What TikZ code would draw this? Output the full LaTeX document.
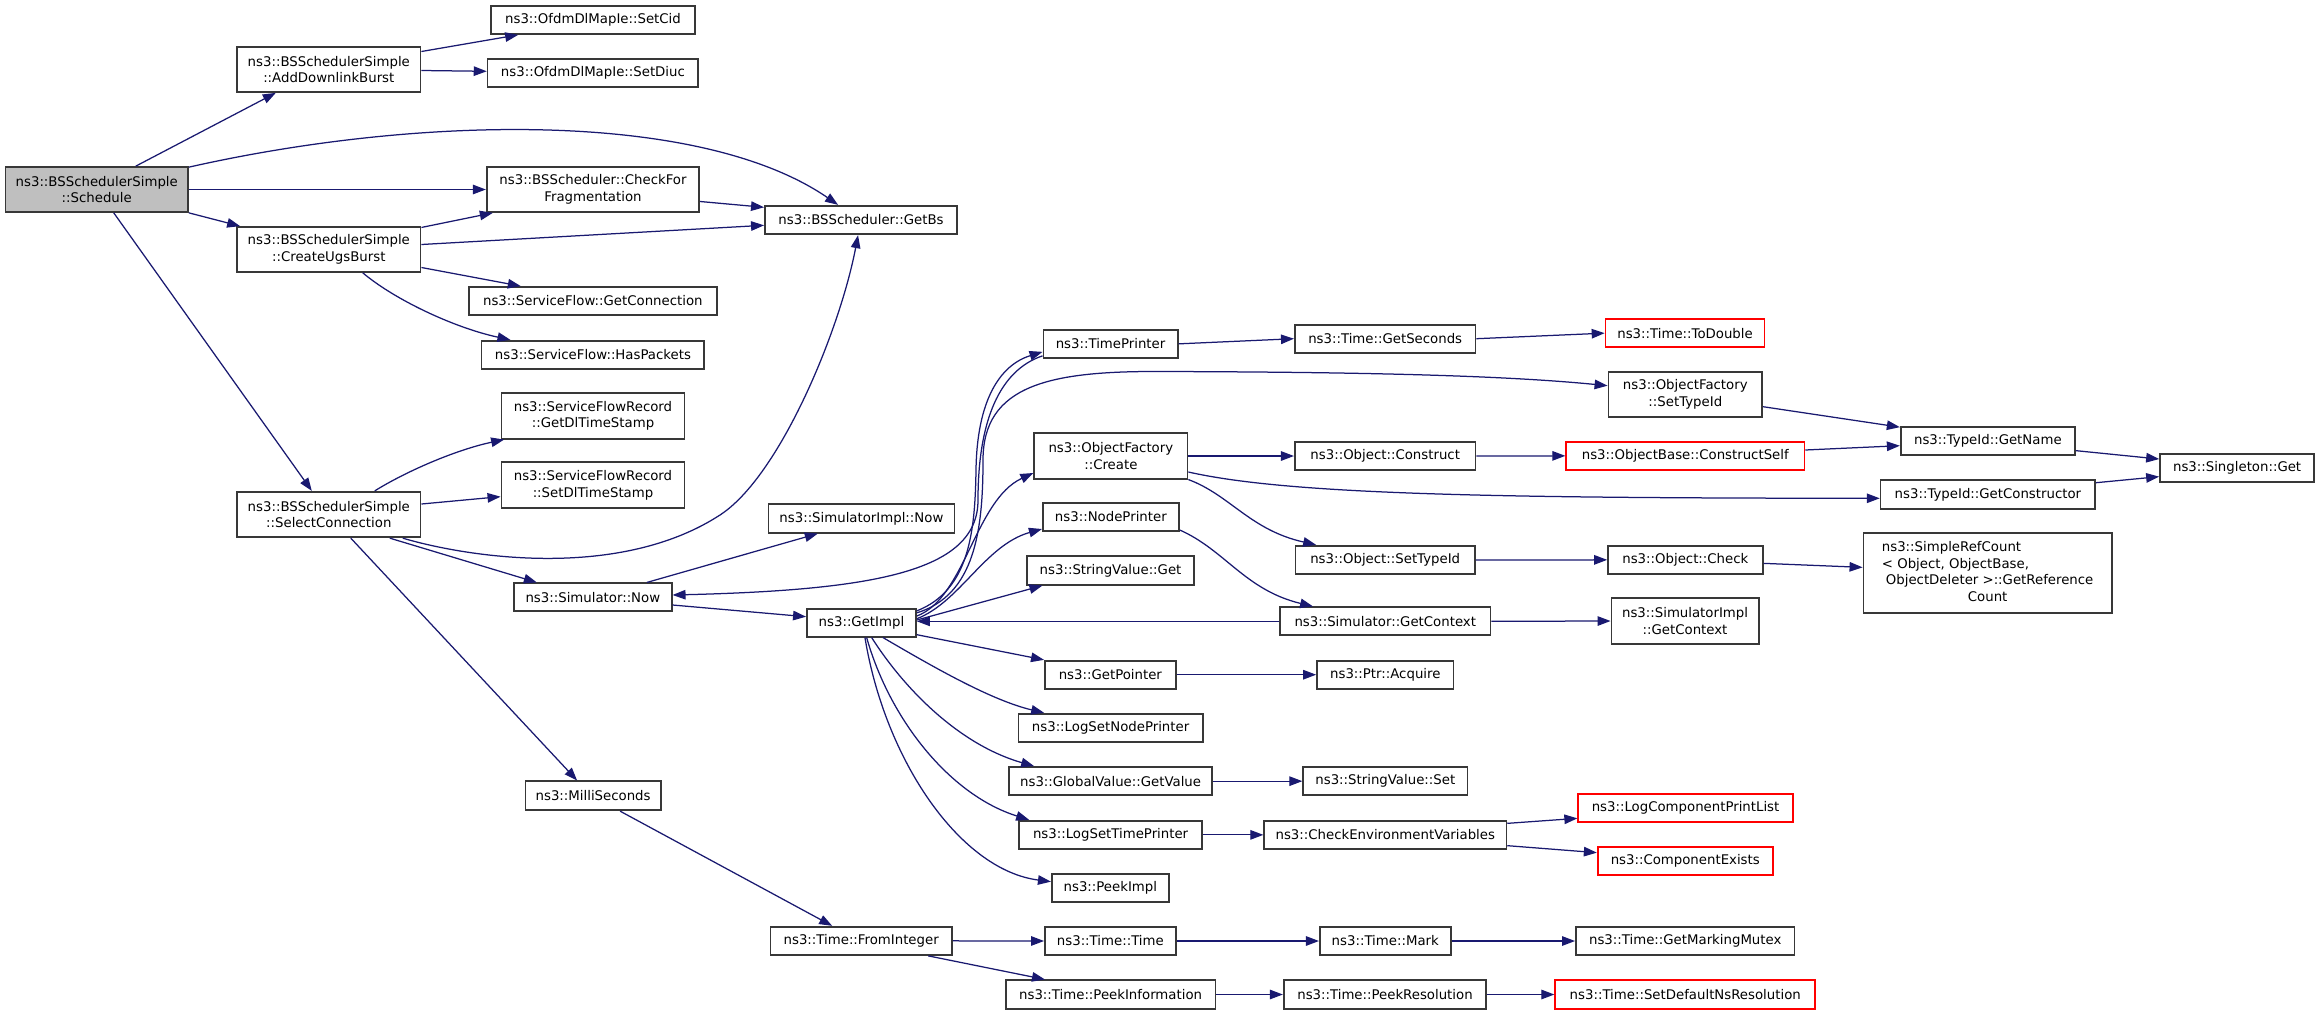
\documentclass[tikz,border=0pt]{standalone}
\usepackage{fontspec}
\setmainfont{DejaVu Sans}
\usetikzlibrary{arrows.meta}
\definecolor{edgec}{HTML}{191970}
\definecolor{bordc}{HTML}{383838}
\definecolor{rootfill}{HTML}{BFBFBF}
\definecolor{redc}{HTML}{FF0000}
\newcommand{\bnode}[7][]{\node[box,#1,minimum width={#5-#3},minimum height={#6-#4}] (#2) at ({(#3+#5)/2},{(#4+#6)/2}) {#7};}
\begin{document}
\begin{tikzpicture}[x=1pt,y=-1pt,
  box/.style={draw=bordc, line width=1.7pt, fill=white, inner sep=0pt, align=center, font={\fontsize{13.3}{16.7}\selectfont}},
  redbox/.style={draw=redc},
  rootbox/.style={fill=rootfill},
  edge/.style={draw=edgec, line width=1.25pt, -{Triangle[length=13pt,width=9.5pt]}}]
\fill[white] (0,0) rectangle (2320,1015);
\useasboundingbox (0,0) rectangle (2320,1015);
% nodes
\bnode[rootbox]{sched}{5.5}{167}{188}{212}{ns3::BSSchedulerSimple\\::Schedule}
\bnode{add}{237}{47}{420.6}{92}{ns3::BSSchedulerSimple\\::AddDownlinkBurst}
\bnode{setcid}{491}{5.7}{695}{34}{ns3::OfdmDlMapIe::SetCid}
\bnode{setdiuc}{487.6}{59.3}{698.3}{87.3}{ns3::OfdmDlMapIe::SetDiuc}
\bnode{check}{486.7}{167}{699.3}{212}{ns3::BSScheduler::CheckFor\\Fragmentation}
\bnode{ugs}{237}{227}{420.6}{272}{ns3::BSSchedulerSimple\\::CreateUgsBurst}
\bnode{getconn}{469}{287}{716.7}{315}{ns3::ServiceFlow::GetConnection}
\bnode{haspk}{481.6}{340.7}{704.3}{368.7}{ns3::ServiceFlow::HasPackets}
\bnode{getdl}{501.4}{393}{684.6}{438.7}{ns3::ServiceFlowRecord\\::GetDlTimeStamp}
\bnode{setdl}{501.4}{462.3}{684.6}{508}{ns3::ServiceFlowRecord\\::SetDlTimeStamp}
\bnode{select}{237}{491.7}{420.6}{537.3}{ns3::BSSchedulerSimple\\::SelectConnection}
\bnode{simnow}{514}{583.3}{671.7}{611.3}{ns3::Simulator::Now}
\bnode{milli}{525.5}{781.3}{660.7}{810.3}{ns3::MilliSeconds}
\bnode{fromint}{770.4}{926.7}{952}{955}{ns3::Time::FromInteger}
\bnode{getbs}{764.9}{205.7}{957.2}{234.3}{ns3::BSScheduler::GetBs}
\bnode{timepr}{1043.4}{329.7}{1177.7}{358}{ns3::TimePrinter}
\bnode{getsec}{1294.8}{324.7}{1475.6}{352.7}{ns3::Time::GetSeconds}
\bnode{create}{1034.2}{433.3}{1187.5}{478.7}{ns3::ObjectFactory\\::Create}
\bnode{construct}{1294.8}{441.7}{1475.6}{470.3}{ns3::Object::Construct}
\bnode{implnow}{768.4}{504.3}{954.4}{532.7}{ns3::SimulatorImpl::Now}
\bnode{nodepr}{1042.8}{503}{1178.9}{531}{ns3::NodePrinter}
\bnode{strget}{1027.3}{556.3}{1193.8}{584.7}{ns3::StringValue::Get}
\bnode{objsettid}{1295.4}{545.7}{1475}{574.3}{ns3::Object::SetTypeId}
\bnode{getimpl}{806.9}{608.7}{916}{636.7}{ns3::GetImpl}
\bnode{getctx}{1279.9}{607.3}{1490.6}{635.3}{ns3::Simulator::GetContext}
\bnode[redbox]{todouble}{1605.5}{319}{1764.6}{347.3}{ns3::Time::ToDouble}
\bnode{ofsettid}{1608.4}{371.7}{1762.2}{417.3}{ns3::ObjectFactory\\::SetTypeId}
\bnode[redbox]{cself}{1566.2}{441.7}{1804.4}{470}{ns3::ObjectBase::ConstructSelf}
\bnode{getname}{1900.7}{427}{2075}{455.3}{ns3::TypeId::GetName}
\bnode{singleton}{2160}{453.7}{2314.2}{482}{ns3::Singleton::Get}
\bnode{getctor}{1880.6}{480.3}{2095.2}{508.7}{ns3::TypeId::GetConstructor}
\bnode{check2}{1608}{545.7}{1762.7}{574}{ns3::Object::Check}
\bnode{refcount}{1863.4}{533}{2111.9}{613.3}{\begin{tabular}{@{}l@{}}ns3::SimpleRefCount\\< Object, ObjectBase,\\\hspace*{4pt}ObjectDeleter >::GetReference\\\multicolumn{1}{@{}c@{}}{Count}\end{tabular}}
\bnode{implctx}{1611.4}{598.3}{1758.7}{643.7}{ns3::SimulatorImpl\\::GetContext}
\bnode{getptr}{1044.9}{660.7}{1175.8}{688.7}{ns3::GetPointer}
\bnode{acquire}{1317}{660.7}{1453.6}{688.7}{ns3::Ptr::Acquire}
\bnode{lognode}{1018.5}{713.7}{1202.7}{742}{ns3::LogSetNodePrinter}
\bnode{globget}{1009.3}{767}{1211.9}{795.3}{ns3::GlobalValue::GetValue}
\bnode{strset}{1303.2}{767}{1467.4}{795.3}{ns3::StringValue::Set}
\bnode[redbox]{lcpl}{1578.2}{793.7}{1792.9}{822}{ns3::LogComponentPrintList}
\bnode{logtime}{1019}{820.7}{1202.2}{849}{ns3::LogSetTimePrinter}
\bnode{checkenv}{1264.2}{820.7}{1506.4}{849}{ns3::CheckEnvironmentVariables}
\bnode[redbox]{compex}{1597.7}{847}{1772.8}{875.3}{ns3::ComponentExists}
\bnode{peekimpl}{1051.8}{874}{1168.9}{902.3}{ns3::PeekImpl}
\bnode{ttime}{1044.9}{927}{1175.8}{955}{ns3::Time::Time}
\bnode{mark}{1319.8}{927}{1450.7}{955}{ns3::Time::Mark}
\bnode{mutex}{1575.9}{927}{1794.6}{955}{ns3::Time::GetMarkingMutex}
\bnode{peekinfo}{1005.8}{980.3}{1215.4}{1008.7}{ns3::Time::PeekInformation}
\bnode{peekres}{1283.7}{980.3}{1486.3}{1008.7}{ns3::Time::PeekResolution}
\bnode[redbox]{setdef}{1555.2}{980.3}{1815.3}{1008.7}{ns3::Time::SetDefaultNsResolution}
% edges
\draw[edge] ([xshift=39pt]sched.north) -- ([xshift=-53pt]add.south);
\draw[edge] ([shift={(0,1)}]sched.north east) .. controls (420,115) and (700,110) .. ([xshift=-23pt]getbs.north);
\draw[edge] (sched.east) -- (check.west);
\draw[edge] (sched.south east) -- ([xshift=4pt]ugs.north west);
\draw[edge] ([xshift=17pt]sched.south) -- ([xshift=-17pt]select.north);
\draw[edge] ([shift={(0,-18)}]add.east) -- ([xshift=28pt]setcid.south west);
\draw[edge] ([shift={(0,1)}]add.east) -- ([shift={(0,-2)}]setdiuc.west);
\draw[edge] ([shift={(0,1.3)}]ugs.north east) -- ([xshift=7pt]check.south west);
\draw[edge] ([shift={(0,-5)}]ugs.east) -- ([shift={(0,5.3)}]getbs.west);
\draw[edge] ([shift={(0,12)}]check.east) -- ([shift={(0,-12.7)}]getbs.west);
\draw[edge] ([shift={(0,18)}]ugs.east) -- ([xshift=-72pt]getconn.north);
\draw[edge] ([xshift=34pt]ugs.south) .. controls (395,300) and (455,328) .. ([xshift=-82.5pt]haspk.north);
\draw[edge] ([xshift=46pt]select.north) .. controls (405,472) and (455,450) .. ([xshift=3.6pt]getdl.south west);
\draw[edge] ([shift={(0,-10.5)}]select.east) -- ([shift={(0,11.5)}]setdl.west);
\draw[edge] ([xshift=74pt]select.south) .. controls (470,558) and (620,580) .. (720,515) .. controls (780,476) and (840,330) .. ([xshift=-3pt]getbs.south);
\draw[edge] ([xshift=61pt]select.south) -- ([xshift=-56pt]simnow.north);
\draw[edge] ([xshift=22pt]select.south) -- ([xshift=-16pt]milli.north);
\draw[edge] ([xshift=54pt]simnow.north) -- ([xshift=-43.6pt]implnow.south);
\draw[edge] ([shift={(0,7.7)}]simnow.east) -- ([shift={(0,-6)}]getimpl.west);
\draw[edge] ([shift={(0,-3)}]timepr.south west) .. controls (1000,370) and (978,420) .. (978,500) .. controls (978,570) and (880,590) .. ([shift={(0,-2.3)}]simnow.east);
\draw[edge] ([shift={(0,3)}]getimpl.north east) .. controls (970,590) and (975,530) .. (976,470) .. controls (977,400) and (1000,365) .. ([shift={(0,8)}]timepr.west);
\draw[edge] ([shift={(0,5)}]getimpl.north east) .. controls (975,595) and (983,530) .. (983,460) .. controls (983,385) and (1050,371) .. (1160,371.5) .. controls (1350,372) and (1500,375) .. ([shift={(0,-8.8)}]ofsettid.west);
\draw[edge] ([shift={(0,-6.7)}]getimpl.east) .. controls (965,598) and (975,500) .. ([shift={(0,17)}]create.west);
\draw[edge] ([shift={(0,-4)}]getimpl.east) .. controls (960,602) and (985,545) .. ([shift={(0,12)}]nodepr.west);
\draw[edge] ([shift={(0,-2.7)}]getimpl.east) -- ([xshift=16pt]strget.south west);
\draw[edge] (getctx.west) -- (getctx.west -| getimpl.east);
\draw[edge] ([shift={(0,12)}]getimpl.east) -- (getptr.north west);
\draw[edge] ([xshift=21.5pt]getimpl.south) .. controls (930,665) and (990,700) .. ([xshift=26.5pt]lognode.north west);
\draw[edge] ([xshift=10.2pt]getimpl.south) .. controls (905,690) and (960,745) .. ([xshift=25.7pt]globget.north west);
\draw[edge] ([xshift=5.2pt]getimpl.south) .. controls (890,720) and (950,795) .. ([xshift=11pt]logtime.north west);
\draw[edge] ([xshift=3.5pt]getimpl.south) .. controls (885,760) and (960,870) .. ([shift={(0,-6.5)}]peekimpl.west);
\draw[edge] (timepr.east) -- (getsec.west);
\draw[edge] (getsec.east) -- (todouble.west);
\draw[edge] (create.east) -- (construct.west);
\draw[edge] (construct.east) -- (cself.west);
\draw[edge] ([shift={(0,16)}]create.east) .. controls (1290,495) and (1500,498) .. ([shift={(0,3.8)}]getctor.west);
\draw[edge] (create.south east) .. controls (1230,495) and (1250,530) .. ([xshift=21.6pt]objsettid.north west);
\draw[edge] ([shift={(0,13)}]nodepr.east) .. controls (1225,550) and (1245,590) .. ([xshift=34pt]getctx.north west);
\draw[edge] ([shift={(0,12.2)}]ofsettid.east) -- ([shift={(0,1)}]getname.north west);
\draw[edge] ([shift={(0,-5.85)}]cself.east) -- ([shift={(0,4.55)}]getname.west);
\draw[edge] ([shift={(0,9.5)}]getname.east) -- ([shift={(0,-8.8)}]singleton.west);
\draw[edge] ([shift={(0,-11.8)}]getctor.east) -- ([shift={(0,8.8)}]singleton.west);
\draw[edge] (objsettid.east) -- (check2.west);
\draw[edge] ([shift={(0,3.5)}]check2.east) -- ([shift={(0,-5.8)}]refcount.west);
\draw[edge] (getctx.east) -- (implctx.west);
\draw[edge] (getptr.east) -- (acquire.west);
\draw[edge] (globget.east) -- (strset.west);
\draw[edge] (logtime.east) -- (checkenv.west);
\draw[edge] ([shift={(0,-11.5)}]checkenv.east) -- ([shift={(0,10.5)}]lcpl.west);
\draw[edge] ([shift={(0,10.8)}]checkenv.east) -- ([shift={(0,-8.5)}]compex.west);
\draw[edge] ([xshift=27pt]milli.south) -- ([xshift=-29pt]fromint.north);
\draw[edge] (fromint.east) -- (ttime.west);
\draw[edge] ([xshift=67pt]fromint.south) -- ([xshift=40pt]peekinfo.north west);
\draw[edge] (ttime.east) -- (mark.west);
\draw[edge] (mark.east) -- (mutex.west);
\draw[edge] (peekinfo.east) -- (peekres.west);
\draw[edge] (peekres.east) -- (setdef.west);
\end{tikzpicture}
\end{document}
